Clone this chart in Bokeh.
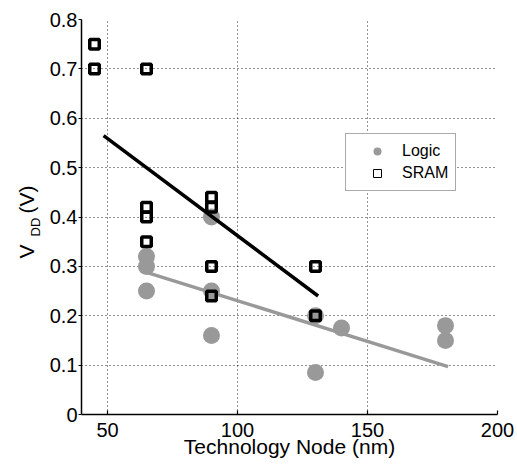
from bokeh.plotting import figure
from bokeh.models import FixedTicker, Legend, LegendItem, Range1d, ColumnDataSource
from bokeh.layouts import row
from bokeh.core.properties import value
from bokeh.embed import file_html
from bokeh.resources import INLINE
import math

# ---- data ----
logic_x = [65, 65, 65, 90, 90, 90, 130, 130, 140, 180, 180]
logic_y = [0.32, 0.30, 0.25, 0.40, 0.25, 0.16, 0.20, 0.085, 0.175, 0.18, 0.15]

sram_x = [45, 45, 65, 65, 65, 65, 90, 90, 90, 90, 130, 130]
sram_y = [0.75, 0.70, 0.70, 0.42, 0.40, 0.35, 0.44, 0.42, 0.30, 0.24, 0.30, 0.20]

sram_fit_x = [48.5, 131]
sram_fit_y = [0.565, 0.24]
logic_fit_x = [65, 181]
logic_fit_y = [0.288, 0.097]

x_ticks = [50, 100, 150, 200]
y_ticks = [0, 0.1, 0.2, 0.3, 0.4, 0.5, 0.6, 0.7, 0.8]
y_tick_labels = ["0", "0.1", "0.2", "0.3", "0.4", "0.5", "0.6", "0.7", "0.8"]

series_names = ["Logic", "SRAM"]
y_label_parts = ["V", "DD", "(V)"]

FONT = "Liberation Sans"
GRAY = "#999999"
LAB_W = 46
TOP, BOTTOM, FRAME_H = 19, 51, 395

p = figure(output_backend="svg", toolbar_location=None,
           frame_width=416, frame_height=FRAME_H,
           x_range=Range1d(40, 200), y_range=Range1d(0, 0.8),
           min_border_left=81 - LAB_W, min_border_right=20,
           min_border_top=TOP, min_border_bottom=BOTTOM)
p.outline_line_color = None
p.background_fill_color = "white"

for ax in (p.xaxis[0], p.yaxis[0]):
    ax.axis_line_color = "black"
    ax.axis_line_width = 1.5
    ax.major_tick_line_color = "black"
    ax.major_tick_line_width = 1.2
    ax.minor_tick_line_color = None
    ax.major_label_text_font = FONT
    ax.major_label_text_font_size = "20px"
    ax.major_label_text_color = "black"

p.xaxis.ticker = FixedTicker(ticks=x_ticks)
p.yaxis.ticker = FixedTicker(ticks=y_ticks)
p.yaxis.major_label_overrides = {t: l for t, l in zip(y_ticks, y_tick_labels)}
p.xaxis.major_tick_in = 4
p.xaxis.major_tick_out = 0
p.yaxis.major_tick_in = 0
p.yaxis.major_tick_out = 3
p.xaxis.major_label_standoff = 8
p.yaxis.major_label_standoff = 1

p.xaxis.axis_label = "Technology Node (nm)"
p.xaxis.axis_label_text_font = FONT
p.xaxis.axis_label_text_font_size = "21px"
p.xaxis.axis_label_text_font_style = "normal"
p.xaxis.axis_label_text_color = "black"
p.xaxis.axis_label_standoff = -5

for g in (p.xgrid[0], p.ygrid[0]):
    g.grid_line_color = "black"
    g.grid_line_width = 1
    g.grid_line_dash = "1 3"
    g.grid_line_alpha = 0.85
p.xgrid.ticker = FixedTicker(ticks=x_ticks)
p.ygrid.ticker = FixedTicker(ticks=y_ticks)

# ---- glyphs ----
p.scatter(logic_x, logic_y, marker="circle", size=17, fill_color=GRAY, line_color=None)
p.line(logic_fit_x, logic_fit_y, line_color=GRAY, line_width=3.5)
p.line(sram_fit_x, sram_fit_y, line_color="black", line_width=3.5)
p.scatter(sram_x, sram_y, marker="square", size=9.5, fill_color=None,
          line_color="black", line_width=3.5)

# legend with thin-style proxy renderers (one NaN point, never drawn in the frame)
proxy = ColumnDataSource(data=dict(x=[float("nan")], y=[float("nan")]))
leg_logic = p.scatter("x", "y", source=proxy, marker="circle", size=8,
                      fill_color=GRAY, line_color=None)
leg_sram = p.scatter("x", "y", source=proxy, marker="square", size=8,
                     fill_color="white", line_color="black", line_width=1)
legend = Legend(items=[LegendItem(label=series_names[0], renderers=[leg_logic]),
                       LegendItem(label=series_names[1], renderers=[leg_sram])],
                location=(264, 223), padding=7, spacing=2,
                glyph_width=48, glyph_height=20, label_standoff=1,
                label_text_font=FONT, label_text_font_size="16px",
                label_text_color="black",
                border_line_color="#555555", border_line_width=1,
                background_fill_color="white", background_fill_alpha=1,
                margin=0)
p.add_layout(legend, "center")

# ---- y axis label panel: V_DD (V), shares the main y range ----
lab = figure(output_backend="svg", toolbar_location=None,
             frame_width=LAB_W, frame_height=FRAME_H,
             x_range=Range1d(0, LAB_W), y_range=p.y_range,
             min_border_left=0, min_border_right=0,
             min_border_top=TOP, min_border_bottom=BOTTOM)
lab.axis.visible = False
lab.grid.visible = False
lab.outline_line_color = None
lab.background_fill_color = "white"
lab_src = ColumnDataSource(data=dict(
    x=[26, 35, 26],
    y=[0.316, 0.3605, 0.407],
    text=y_label_parts,
    size=["21px", "13px", "21px"],
))
lab.text("x", "y", text="text", source=lab_src, angle=math.pi / 2,
         text_align="left", text_baseline="alphabetic",
         text_font=value(FONT), text_font_size="size", text_color="black")

layout = row(lab, p, spacing=0)
open("out.html", "w").write(file_html(layout, INLINE))
